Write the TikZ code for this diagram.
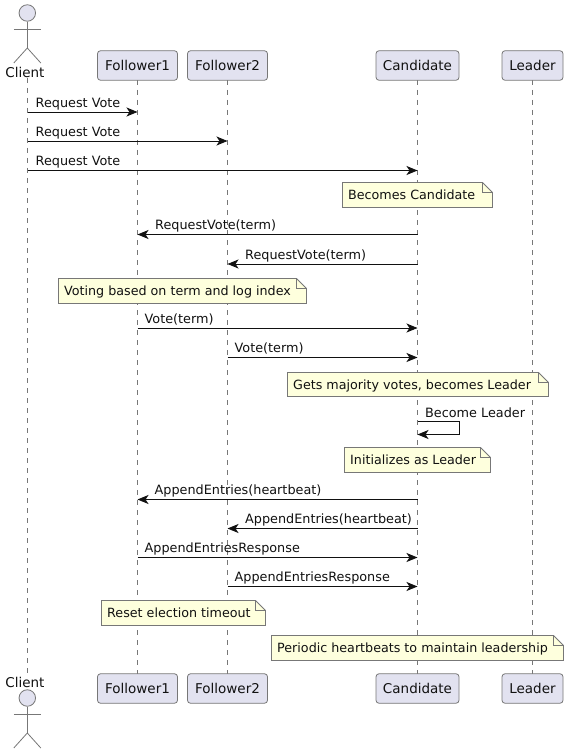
\documentclass[tikz,border=0pt]{standalone}
\usepackage{fontspec}
\setmainfont{DejaVu Sans}
\usetikzlibrary{arrows.meta}
\definecolor{partfill}{HTML}{E2E2F0}
\definecolor{notefill}{HTML}{FEFFDD}
\definecolor{linegray}{HTML}{777777}
\definecolor{ink}{HTML}{111111}
\tikzset{
  x=1pt,y=-1pt,
  part/.style={draw=linegray,fill=partfill,rounded corners=3pt,line width=.8pt,minimum height=29.5pt,inner sep=0pt,font=\fontsize{13.5pt}{15pt}\selectfont,text=ink},
  life/.style={draw=linegray,line width=.8pt,dash pattern=on 5pt off 5pt},
  msgline/.style={draw=ink,line width=.9pt,-{Stealth[length=11pt,width=9pt,inset=3pt]}},
  msglabel/.style={font=\fontsize{12.8pt}{14pt}\selectfont,text=ink,inner sep=0pt,anchor=base west},
  notelabel/.style={font=\fontsize{12.7pt}{14pt}\selectfont,text=ink,inner sep=0pt,anchor=base west},
  actorline/.style={draw=linegray,line width=.8pt},
  actorhead/.style={draw=linegray,fill=partfill,line width=.8pt,circle,minimum size=16.5pt,inner sep=0pt},
  actorname/.style={font=\fontsize{13.5pt}{15pt}\selectfont,text=ink,inner sep=0pt,anchor=base},
}
\newcommand{\partpair}[4]{% name, cx, width, label
  \draw[life] (#2,80) -- (#2,674);
  \node[part,minimum width=#3pt] (#1t) at (#2,65.5) {#4};
  \node[part,minimum width=#3pt] (#1b) at (#2,688.5) {#4};
}
\newcommand{\rmsg}[5]{% y, from, to, label, label shift
  \coordinate (a) at (#2t.south |- 0,#1);
  \coordinate (b) at (#3t.south |- 0,#1);
  \draw[msgline] (a) -- (b);
  \node[msglabel] at ([xshift=#5pt,yshift=4.7pt]a) {#4};
}
\newcommand{\notebox}[5]{% x1 y1 x2 y2 label
  \draw[draw=linegray,fill=notefill,line width=.8pt] (#1,#2) -- (#3-10,#2) -- (#3,#2+10) -- (#3,#4) -- (#1,#4) -- cycle;
  \draw[draw=linegray,line width=.8pt] (#3-10,#2) -- (#3-10,#2+10) -- (#3,#2+10);
  \node[notelabel] at (#1+5.5,#2+17) {#5};
}
\newcommand{\actorfig}[2]{% cx, headcy
  \node[actorhead] (h#2) at (#1,#2) {};
  \draw[actorline] (h#2.south) -- (#1,#2+35);
  \draw[actorline] (#1-13.5,#2+16) -- (#1+13.5,#2+16);
  \draw[actorline] (#1-13.5,#2+50) -- (#1,#2+35) -- (#1+13.5,#2+50);
}
\begin{document}
\begin{tikzpicture}
\useasboundingbox (0,0) rectangle (569,754);
\fill[white] (0,0) rectangle (569,754);
\coordinate (Ct) at (27.5,78);
\coordinate (Cb) at (27.5,674);
\draw[life] (Ct) -- (Cb);
\partpair{F}{137.5}{80}{Follower1}
\partpair{G}{227.5}{80}{Follower2}
\partpair{D}{417.5}{83}{Candidate}
\partpair{L}{532.5}{61}{Leader}
\actorfig{27.3}{13}
\node[actorname] (cl1) at (25,78) {Client};
\node[actorname] (cl2) at (25,687) {Client};
\actorfig{27.3}{698}
\rmsg{112}{C}{F}{Request Vote}{8}
\rmsg{141}{C}{G}{Request Vote}{8}
\rmsg{170.5}{C}{D}{Request Vote}{8}
\notebox{342.5}{182.5}{492.5}{207.5}{Becomes Candidate}
\rmsg{234.5}{D}{F}{RequestVote(term)}{-262.5}
\rmsg{264}{D}{G}{RequestVote(term)}{-172.5}
\notebox{58.5}{278.5}{306.5}{303.5}{Voting based on term and log index}
\rmsg{328}{F}{D}{Vote(term)}{7}
\rmsg{357.5}{G}{D}{Vote(term)}{7}
\notebox{287.5}{372.5}{548.5}{396.5}{Gets majority votes, becomes Leader}
\coordinate (s1) at (Dt.south |- 0,421.5);
\coordinate (s2) at (459.5,421.5);
\coordinate (s3) at (459.5,434.5);
\coordinate (s4) at (Dt.south |- 0,434.5);
\draw[msgline] (s1) -- (s2) -- (s3) -- (s4);
\node[msglabel] at (425,417.5) {Become Leader};
\notebox{344.5}{447.5}{490.5}{472.5}{Initializes as Leader}
\rmsg{499.5}{D}{F}{AppendEntries(heartbeat)}{-263}
\rmsg{528.5}{D}{G}{AppendEntries(heartbeat)}{-172.5}
\rmsg{557.5}{F}{D}{AppendEntriesResponse}{7}
\rmsg{586.5}{G}{D}{AppendEntriesResponse}{7}
\notebox{101.5}{600.5}{265.5}{625.5}{Reset election timeout}
\notebox{271.5}{635.5}{563.5}{660.5}{Periodic heartbeats to maintain leadership}
\end{tikzpicture}
\end{document}
